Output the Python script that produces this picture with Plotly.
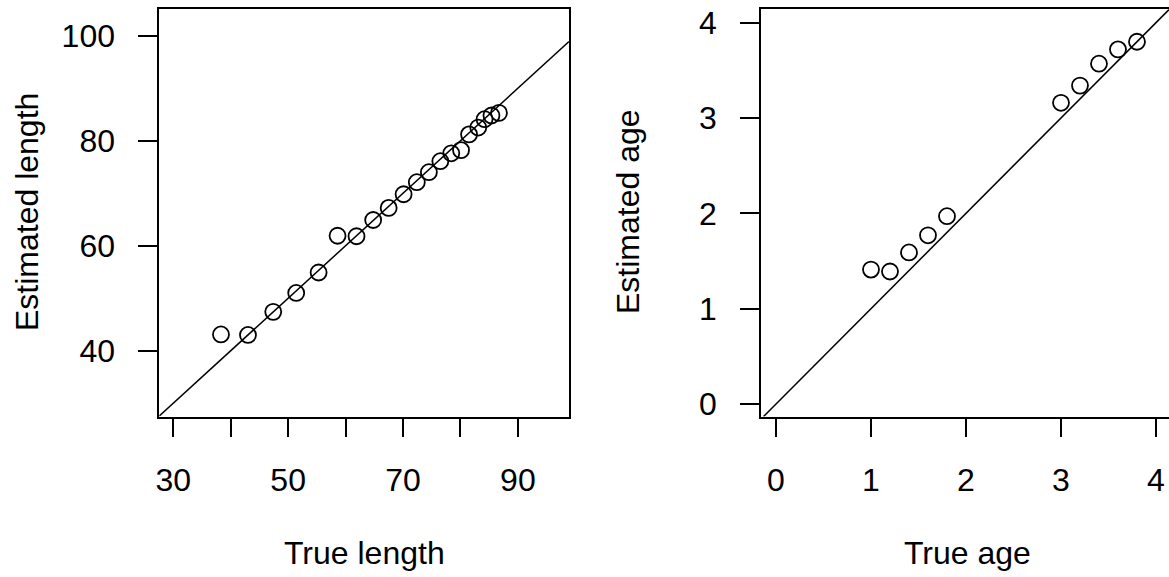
import plotly.graph_objects as go

# ---- data ----
true_length = [38.3, 43.0, 47.4, 51.4, 55.3, 58.6, 61.9, 64.8, 67.5, 70.1,
               72.4, 74.5, 76.5, 78.4, 80.1, 81.5, 83.1, 84.2, 85.4, 86.7]
est_length = [43.1, 43.0, 47.4, 51.0, 54.9, 61.9, 61.8, 64.9, 67.2, 69.8,
              72.1, 74.0, 76.1, 77.6, 78.2, 81.2, 82.5, 84.1, 84.8, 85.3]
true_age = [1.0, 1.2, 1.4, 1.6, 1.8, 3.0, 3.2, 3.4, 3.6, 3.8]
est_age = [1.41, 1.39, 1.59, 1.77, 1.97, 3.16, 3.34, 3.57, 3.72, 3.80]

len_xticks = [30, 40, 50, 60, 70, 80, 90]
len_xlabels = ["30", "", "50", "", "70", "", "90"]
len_yticks = [40, 60, 80, 100]
age_ticks = [0, 1, 2, 3, 4]

# ---- layout constants ----
W, H = 1169, 577
FONT = "Liberation Sans, Arial, sans-serif"
FS = 32
len_xrange = [27.56, 98.9]
len_yrange = [27.47, 105.18]
age_xrange = [-0.158, 4.137]
age_yrange = [-0.131, 4.149]

fig = go.Figure()

marker = dict(symbol="circle-open", size=16, color="black", line=dict(width=1.8, color="black"))

fig.add_trace(go.Scatter(x=true_length, y=est_length, mode="markers", marker=marker,
                         xaxis="x", yaxis="y", showlegend=False))
fig.add_trace(go.Scatter(x=len_xrange, y=len_xrange, mode="lines",
                         line=dict(color="black", width=1.5), xaxis="x", yaxis="y", showlegend=False))
fig.add_trace(go.Scatter(x=true_age, y=est_age, mode="markers", marker=marker,
                         xaxis="x2", yaxis="y2", showlegend=False))
fig.add_trace(go.Scatter(x=[age_yrange[0], age_xrange[1]], y=[age_yrange[0], age_xrange[1]], mode="lines",
                         line=dict(color="black", width=1.5), xaxis="x2", yaxis="y2", showlegend=False))

ydom = [1 - 416.5 / H, 1 - 8.5 / H]
axis_common = dict(showgrid=False, zeroline=False, showline=True, linecolor="black", linewidth=1.8,
                   ticks="outside", ticklen=19, tickwidth=1.8, tickcolor="black", automargin=False,
                   tickfont=dict(family=FONT, size=FS, color="black"))

fig.update_layout(
    width=W, height=H, margin=dict(l=0, r=0, t=0, b=0, autoexpand=False),
    paper_bgcolor="white", plot_bgcolor="white",
    xaxis=dict(domain=[159.3 / W, 569 / W], range=len_xrange, tickvals=len_xticks,
               ticktext=len_xlabels, mirror=True, anchor="y", ticklabelstandoff=15, **axis_common),
    yaxis=dict(domain=ydom, range=len_yrange, tickvals=len_yticks, mirror=True, anchor="x",
               ticklabelstandoff=17, **axis_common),
    xaxis2=dict(domain=[761 / W, 1.0], range=age_xrange, tickvals=age_ticks, mirror=True,
                anchor="y2", ticklabelstandoff=15, **axis_common),
    yaxis2=dict(domain=ydom, range=age_yrange, tickvals=age_ticks, mirror=False, anchor="x2",
                ticklabelstandoff=17, **axis_common),
)

titles = [
    dict(text="True length", x=364 / W, y=1 - 553 / H, textangle=0),
    dict(text="True age", x=967 / W, y=1 - 553 / H, textangle=0),
    dict(text="Estimated length", x=27 / W, y=1 - 212 / H, textangle=-90),
    dict(text="Estimated age", x=628 / W, y=1 - 212 / H, textangle=-90),
]
for t in titles:
    fig.add_annotation(text=t["text"], x=t["x"], y=t["y"], xref="paper", yref="paper",
                       showarrow=False, textangle=t["textangle"], xanchor="center", yanchor="middle",
                       font=dict(family=FONT, size=FS, color="black"))

fig.write_html("out.html")
